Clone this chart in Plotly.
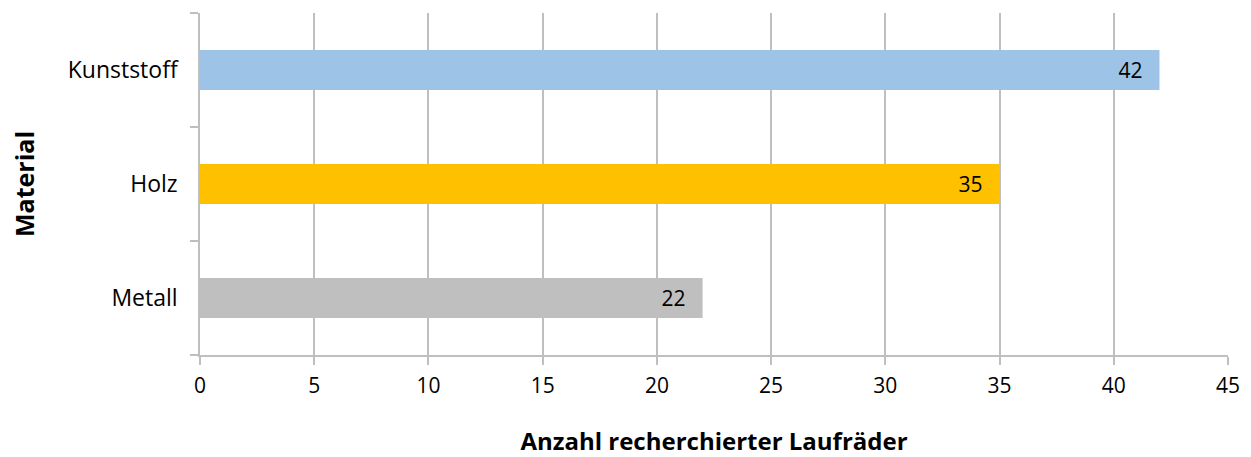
import plotly.graph_objects as go

# Materials of the researched wheels and their counts
materials = ["Metall", "Holz", "Kunststoff"]
counts = [22, 35, 42]
bar_colors = ["#BFBFBF", "#FFC000", "#9DC3E6"]
x_ticks = [0, 5, 10, 15, 20, 25, 30, 35, 40, 45]

FONT = "Open Sans"
GREY = "#BFBFBF"

fig = go.Figure(
    go.Bar(
        x=counts,
        y=materials,
        orientation="h",
        marker=dict(color=bar_colors, line=dict(width=0)),
        text=counts,
        # value label inside the bar end, with a little padding on the right
        texttemplate="%{x}\u2002\u2009",
        textposition="inside",
        insidetextanchor="end",
        textfont=dict(family=FONT, size=21, color="#000000"),
        hoverinfo="skip",
    )
)

fig.update_layout(
    width=1251,
    height=457,
    margin=dict(l=200, r=23, t=13, b=102),
    paper_bgcolor="white",
    plot_bgcolor="white",
    bargap=0.65,
    showlegend=False,
    uniformtext=dict(minsize=21, mode="show"),
    font=dict(family=FONT, size=21, color="#000000"),
)

fig.update_xaxes(
    range=[0, 45],
    tickvals=x_ticks,
    automargin=False,
    showgrid=True,
    gridcolor=GREY,
    gridwidth=1.5,
    zeroline=False,
    showline=True,
    linecolor=GREY,
    linewidth=1.5,
    ticks="outside",
    ticklen=8,
    tickcolor=GREY,
    tickwidth=1.5,
    ticklabelstandoff=3,
    tickfont=dict(family=FONT, size=21),
    title=dict(
        text="<b>Anzahl recherchierter Laufräder</b>",
        font=dict(family=FONT, size=24),
        standoff=36,
    ),
)

fig.update_yaxes(
    categoryorder="array",
    categoryarray=materials,
    automargin=False,
    showgrid=False,
    zeroline=False,
    showline=True,
    linecolor=GREY,
    linewidth=1.5,
    ticks="outside",
    tickson="boundaries",
    ticklen=8,
    tickcolor=GREY,
    tickwidth=1.5,
    ticklabelstandoff=16,
    tickfont=dict(family=FONT, size=23),
    title=dict(
        text="<b>Material</b>",
        font=dict(family=FONT, size=25),
        standoff=26,
    ),
)

fig.write_html("out.html")
